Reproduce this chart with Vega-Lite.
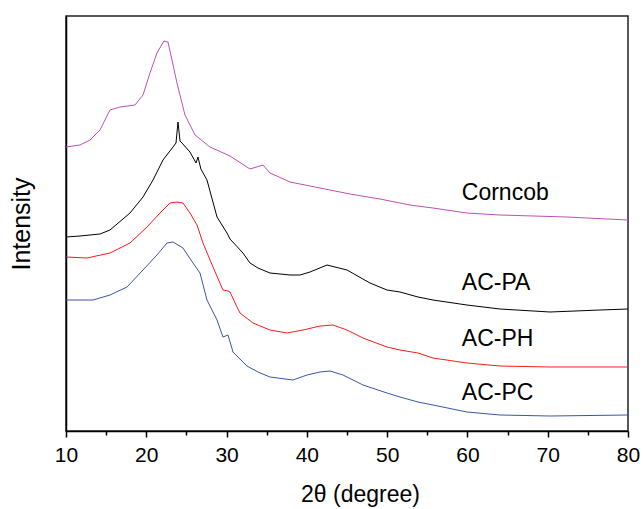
{
  "$schema": "https://vega.github.io/schema/vega-lite/v6.json",
  "width": 562,
  "height": 415,
  "autosize": {"type": "none"},
  "padding": {"left": 66, "top": 16, "right": 15, "bottom": 78},
  "background": "white",
  "config": {
    "view": {"stroke": "#222", "strokeWidth": 1.5},
    "font": "Liberation Sans"
  },
  "datasets": {
    "curves": [
      {"s":"Corncob","x":10,"y":284},{"s":"Corncob","x":11.74,"y":286},{"s":"Corncob","x":12.99,"y":291},{"s":"Corncob","x":14.23,"y":301},{"s":"Corncob","x":15.48,"y":321},{"s":"Corncob","x":16.73,"y":324},{"s":"Corncob","x":18.59,"y":326},{"s":"Corncob","x":19.59,"y":336},{"s":"Corncob","x":20.46,"y":358},{"s":"Corncob","x":21.33,"y":378},{"s":"Corncob","x":22.2,"y":390},{"s":"Corncob","x":22.7,"y":389},{"s":"Corncob","x":23.2,"y":371},{"s":"Corncob","x":23.82,"y":348},{"s":"Corncob","x":24.82,"y":316},{"s":"Corncob","x":26.07,"y":296},{"s":"Corncob","x":27.93,"y":284},{"s":"Corncob","x":30.43,"y":275},{"s":"Corncob","x":32.92,"y":262},{"s":"Corncob","x":34.54,"y":266},{"s":"Corncob","x":35.41,"y":258},{"s":"Corncob","x":37.9,"y":249},{"s":"Corncob","x":41.64,"y":243},{"s":"Corncob","x":45.37,"y":237},{"s":"Corncob","x":49.11,"y":232},{"s":"Corncob","x":52.84,"y":226},{"s":"Corncob","x":55.71,"y":223},{"s":"Corncob","x":59.94,"y":218},{"s":"Corncob","x":64.05,"y":216},{"s":"Corncob","x":72.4,"y":214},{"s":"Corncob","x":80,"y":211},
      {"s":"AC-PA","x":10,"y":194},{"s":"AC-PA","x":11.74,"y":195},{"s":"AC-PA","x":14.23,"y":197},{"s":"AC-PA","x":15.48,"y":201},{"s":"AC-PA","x":17.97,"y":218},{"s":"AC-PA","x":19.59,"y":234},{"s":"AC-PA","x":20.84,"y":251},{"s":"AC-PA","x":22.08,"y":271},{"s":"AC-PA","x":23.33,"y":284},{"s":"AC-PA","x":23.7,"y":288},{"s":"AC-PA","x":23.95,"y":309},{"s":"AC-PA","x":24.2,"y":290},{"s":"AC-PA","x":24.45,"y":288},{"s":"AC-PA","x":25.44,"y":279},{"s":"AC-PA","x":26.2,"y":268},{"s":"AC-PA","x":26.44,"y":274},{"s":"AC-PA","x":26.8,"y":262},{"s":"AC-PA","x":27.56,"y":251},{"s":"AC-PA","x":28.81,"y":214},{"s":"AC-PA","x":30.05,"y":198},{"s":"AC-PA","x":30.43,"y":192},{"s":"AC-PA","x":32.04,"y":178},{"s":"AC-PA","x":32.92,"y":168},{"s":"AC-PA","x":33.91,"y":163},{"s":"AC-PA","x":35.41,"y":158},{"s":"AC-PA","x":37.9,"y":156},{"s":"AC-PA","x":39.14,"y":156},{"s":"AC-PA","x":40.39,"y":159},{"s":"AC-PA","x":42.51,"y":166},{"s":"AC-PA","x":45.0,"y":161},{"s":"AC-PA","x":47.86,"y":148},{"s":"AC-PA","x":49.98,"y":141},{"s":"AC-PA","x":51.6,"y":139},{"s":"AC-PA","x":53.84,"y":134},{"s":"AC-PA","x":55.71,"y":131},{"s":"AC-PA","x":59.94,"y":126},{"s":"AC-PA","x":64.05,"y":122},{"s":"AC-PA","x":70.28,"y":119},{"s":"AC-PA","x":76.51,"y":121},{"s":"AC-PA","x":80,"y":122},
      {"s":"AC-PH","x":10,"y":174},{"s":"AC-PH","x":12.6,"y":173},{"s":"AC-PH","x":15.48,"y":178},{"s":"AC-PH","x":17.97,"y":188},{"s":"AC-PH","x":20.09,"y":204},{"s":"AC-PH","x":21.71,"y":218},{"s":"AC-PH","x":22.95,"y":228},{"s":"AC-PH","x":23.82,"y":229},{"s":"AC-PH","x":24.57,"y":228},{"s":"AC-PH","x":25.44,"y":218},{"s":"AC-PH","x":26.32,"y":206},{"s":"AC-PH","x":27.06,"y":188},{"s":"AC-PH","x":28.31,"y":164},{"s":"AC-PH","x":29.55,"y":141},{"s":"AC-PH","x":30.18,"y":140},{"s":"AC-PH","x":30.43,"y":139},{"s":"AC-PH","x":31.3,"y":124},{"s":"AC-PH","x":31.67,"y":118},{"s":"AC-PH","x":33.29,"y":108},{"s":"AC-PH","x":35.41,"y":101},{"s":"AC-PH","x":37.53,"y":98},{"s":"AC-PH","x":39.52,"y":101},{"s":"AC-PH","x":41.64,"y":105},{"s":"AC-PH","x":43.25,"y":106},{"s":"AC-PH","x":45.0,"y":101},{"s":"AC-PH","x":46.99,"y":93},{"s":"AC-PH","x":49.98,"y":84},{"s":"AC-PH","x":51.6,"y":81},{"s":"AC-PH","x":53.84,"y":78},{"s":"AC-PH","x":55.71,"y":73},{"s":"AC-PH","x":59.94,"y":68},{"s":"AC-PH","x":64.05,"y":65},{"s":"AC-PH","x":70.28,"y":64},{"s":"AC-PH","x":80,"y":64},
      {"s":"AC-PC","x":10,"y":131},{"s":"AC-PC","x":13.36,"y":131},{"s":"AC-PC","x":15.48,"y":136},{"s":"AC-PC","x":17.6,"y":144},{"s":"AC-PC","x":19.59,"y":161},{"s":"AC-PC","x":21.33,"y":176},{"s":"AC-PC","x":22.58,"y":188},{"s":"AC-PC","x":23.33,"y":189},{"s":"AC-PC","x":24.57,"y":183},{"s":"AC-PC","x":25.82,"y":168},{"s":"AC-PC","x":26.69,"y":158},{"s":"AC-PC","x":27.56,"y":131},{"s":"AC-PC","x":28.81,"y":111},{"s":"AC-PC","x":29.55,"y":94},{"s":"AC-PC","x":30.18,"y":96},{"s":"AC-PC","x":30.8,"y":79},{"s":"AC-PC","x":32.54,"y":65},{"s":"AC-PC","x":33.91,"y":59},{"s":"AC-PC","x":35.41,"y":54},{"s":"AC-PC","x":38.27,"y":51},{"s":"AC-PC","x":40.02,"y":56},{"s":"AC-PC","x":41.64,"y":59},{"s":"AC-PC","x":42.88,"y":60},{"s":"AC-PC","x":44.5,"y":56},{"s":"AC-PC","x":46.99,"y":46},{"s":"AC-PC","x":49.98,"y":38},{"s":"AC-PC","x":51.6,"y":34},{"s":"AC-PC","x":53.84,"y":29},{"s":"AC-PC","x":55.71,"y":26},{"s":"AC-PC","x":59.94,"y":19},{"s":"AC-PC","x":64.05,"y":16},{"s":"AC-PC","x":70.28,"y":15},{"s":"AC-PC","x":80,"y":16}
    ],
    "labels": [
      {"s":"Corncob","x":59.3,"y":238},
      {"s":"AC-PA","x":59.3,"y":148},
      {"s":"AC-PH","x":59.3,"y":92},
      {"s":"AC-PC","x":59.3,"y":38}
    ]
  },
  "layer": [
    {
      "data": {"name": "curves"},
      "mark": {"type": "line", "strokeWidth": 1, "interpolate": "linear"},
      "encoding": {
        "x": {
          "field": "x", "type": "quantitative",
          "scale": {"domain": [10, 80], "nice": false, "zero": false},
          "axis": {
            "title": "2θ (degree)",
            "values": [10,15,20,25,30,35,40,45,50,55,60,65,70,75,80],
            "labelExpr": "datum.value % 10 === 0 ? datum.label : ''",
            "grid": false,
            "domainColor": "#000", "domainWidth": 1.5,
            "tickColor": "#000", "tickWidth": 1.5,
            "tickSize": {"condition": {"test": "datum.value % 10 === 0", "value": 6}, "value": 4},
            "labelFontSize": 21, "labelColor": "#000", "labelPadding": 7,
            "labelFlush": false, "labelOverlap": false,
            "titleFontSize": 23, "titleFontWeight": "normal", "titleColor": "#000",
            "titlePadding": 18, "titleX": 294, "titleAlign": "center"
          }
        },
        "y": {
          "field": "y", "type": "quantitative",
          "scale": {"domain": [0, 415], "nice": false},
          "axis": {
            "title": "Intensity", "labels": false, "ticks": false, "grid": false,
            "domainColor": "#000", "domainWidth": 1.5,
            "titleFontSize": 25, "titleFontWeight": "normal", "titleColor": "#000",
            "titlePadding": 32
          }
        },
        "color": {
          "field": "s", "type": "nominal",
          "scale": {"domain": ["Corncob","AC-PA","AC-PH","AC-PC"], "range": ["#c04fb5","#000000","#ff1a1a","#3a56a8"]},
          "legend": null
        }
      }
    },
    {
      "data": {"name": "labels"},
      "mark": {"type": "text", "align": "left", "baseline": "middle", "fontSize": 23, "color": "#000", "font": "Liberation Sans"},
      "encoding": {
        "x": {"field": "x", "type": "quantitative"},
        "y": {"field": "y", "type": "quantitative"},
        "text": {"field": "s"}
      }
    }
  ]
}
